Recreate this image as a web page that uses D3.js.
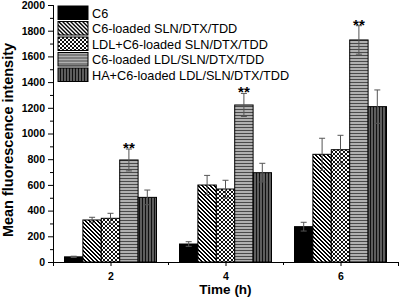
<!DOCTYPE html>
<html>
<head>
<meta charset="utf-8">
<script src="https://cdn.jsdelivr.net/npm/d3@7"></script>
<style>
  html, body { margin: 0; padding: 0; background: #fff; }
  svg { display: block; font-family: "Liberation Sans", Arial, sans-serif; }
  .axis text { font-weight: bold; font-size: 10.5px; fill: #000; }
  .axis path, .axis line { stroke: #000; }
</style>
</head>
<body>
<div id="view"></div>
<script>
const times = [2, 4, 6];
const seriesNames = [
  "C6",
  "C6-loaded SLN/DTX/TDD",
  "LDL+C6-loaded SLN/DTX/TDD",
  "C6-loaded LDL/SLN/DTX/TDD",
  "HA+C6-loaded LDL/SLN/DTX/TDD"
];
// mean values per series, one entry per time point
const vals = [
  [40, 140, 275],
  [327, 599, 838],
  [340, 568, 874],
  [794, 1222, 1728],
  [503, 695, 1209]
];
const errs = [
  [5, 18, 34],
  [21, 75, 125],
  [39, 68, 112],
  [85, 90, 111],
  [57, 73, 130]
];
const starSeries = 3; // "**" above this series
const yTicks = [0, 200, 400, 600, 800, 1000, 1200, 1400, 1600, 1800, 2000];

(function () {
  const W = 400, H = 297;
  const M = { t: 5, r: 2, b: 35, l: 53 };
  const w = W - M.l - M.r, h = H - M.t - M.b;

  const svg = d3.select("#view").append("svg")
    .attr("width", W).attr("height", H);

  // hatch patterns (pixel based so they stay crisp)
  const defs = svg.append("defs");
  const pat = (id, size, bg, fg, cells) => {
    const p = defs.append("pattern").attr("id", id)
      .attr("patternUnits", "userSpaceOnUse")
      .attr("width", size).attr("height", size);
    p.append("rect").attr("width", size).attr("height", size).attr("fill", bg);
    cells.forEach(([cx, cy, cw, ch]) =>
      p.append("rect").attr("x", cx).attr("y", cy)
        .attr("width", cw || 1).attr("height", ch || 1).attr("fill", fg));
  };
  pat("p-diag", 4, "#fff", "#000", [[0,0],[1,0],[1,1],[2,1],[2,2],[3,2],[3,3],[0,3]]);
  pat("p-check", 4, "#fff", "#111", [[0,0,2,2],[2,2,2,2]]);
  pat("p-hor", 3, "#b0b0b0", "#4a4a4a", [[0,2,3,1]]);
  pat("p-ver", 3, "#5e5e5e", "#111", [[2,0,1,3]]);
  const fills = ["#000", "url(#p-diag)", "url(#p-check)", "url(#p-hor)", "url(#p-ver)"];

  const g = svg.append("g").attr("transform", `translate(${M.l},${M.t})`);

  const x = d3.scaleLinear().domain([1, 7]).range([0, w]);
  const y = d3.scaleLinear().domain([0, 2000]).range([h, 0]);

  const barW = 0.32;
  const nS = seriesNames.length;

  const rows = [];
  vals.forEach((arr, s) => arr.forEach((v, i) => {
    const x0 = times[i] - barW * nS / 2 + s * barW;
    rows.push({ s, t: times[i], v, e: errs[s][i], x0 });
  }));

  // bars
  g.selectAll("rect.bar")
    .data(rows)
    .join("rect")
    .attr("class", "bar")
    .attr("x", d => x(d.x0))
    .attr("y", d => y(d.v))
    .attr("width", d => x(d.x0 + barW) - x(d.x0))
    .attr("height", d => h - y(d.v))
    .attr("fill", d => fills[d.s])
    .attr("stroke", "#000")
    .attr("stroke-width", 1);

  // error bars
  const eb = g.selectAll("g.err").data(rows).join("g").attr("class", "err")
    .attr("stroke", "#555").attr("stroke-width", 1);
  const cx = d => x(d.x0 + barW / 2);
  eb.append("line")
    .attr("x1", cx).attr("x2", cx)
    .attr("y1", d => y(d.v - d.e)).attr("y2", d => y(d.v + d.e));
  eb.append("line")
    .attr("x1", d => cx(d) - 3).attr("x2", d => cx(d) + 3)
    .attr("y1", d => y(d.v + d.e)).attr("y2", d => y(d.v + d.e));
  eb.append("line")
    .attr("x1", d => cx(d) - 3).attr("x2", d => cx(d) + 3)
    .attr("y1", d => y(d.v - d.e)).attr("y2", d => y(d.v - d.e));

  // significance marks
  g.selectAll("text.star")
    .data(rows.filter(d => d.s === starSeries))
    .join("text")
    .attr("class", "star")
    .attr("x", cx)
    .attr("y", d => y(d.v + d.e) + 4)
    .attr("text-anchor", "middle")
    .style("font-size", "15px")
    .style("font-weight", "bold")
    .text("**");

  // y axis
  g.append("g")
    .attr("class", "axis")
    .call(d3.axisLeft(y).tickValues(d3.range(100, 2000, 200)).tickSize(3).tickFormat(""));
  g.append("g")
    .attr("class", "axis")
    .call(d3.axisLeft(y).tickValues(yTicks).tickSize(5).tickPadding(3).tickFormat(d3.format("d")));

  // x axis
  g.append("g")
    .attr("class", "axis")
    .attr("transform", `translate(0,${h})`)
    .call(d3.axisBottom(x).tickValues([1, 3, 5, 7]).tickSize(3).tickFormat(""));
  g.append("g")
    .attr("class", "axis")
    .attr("transform", `translate(0,${h})`)
    .call(d3.axisBottom(x).tickValues(times).tickSize(4).tickPadding(7).tickFormat(d3.format("d")));

  // axis titles
  g.append("text")
    .attr("transform", "rotate(-90)")
    .attr("x", -135)
    .attr("y", -40)
    .attr("text-anchor", "middle")
    .style("font-size", "14.5px")
    .style("font-weight", "bold")
    .text("Mean fluorescence intensity");

  g.append("text")
    .attr("x", x(4))
    .attr("y", h + 32)
    .attr("text-anchor", "middle")
    .style("font-size", "13.5px")
    .style("font-weight", "bold")
    .text("Time (h)");

  // legend
  const lg = svg.append("g").attr("transform", "translate(58,6)");
  const item = lg.selectAll("g").data(seriesNames).join("g")
    .attr("transform", (d, i) => `translate(0,${i * 15.5})`);
  item.append("rect")
    .attr("width", 30).attr("height", 13.5)
    .attr("fill", (d, i) => fills[i])
    .attr("stroke", "#000");
  item.append("text")
    .attr("x", 34).attr("y", 11.5)
    .style("font-size", "12.7px")
    .text(d => d);
})();
</script>
</body>
</html>
